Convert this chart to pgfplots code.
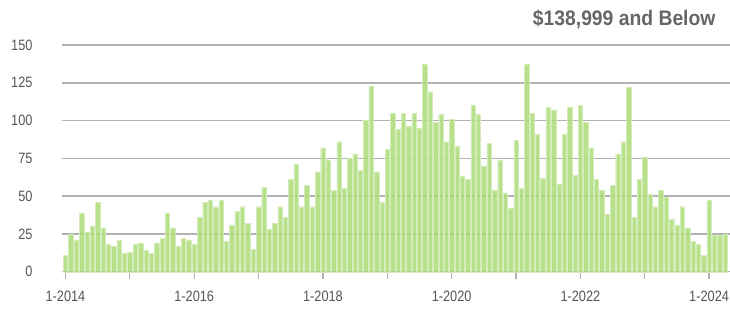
\documentclass[border=0pt]{standalone}
\usepackage{fontspec}
\setmainfont{Liberation Sans}
\newfontfamily\narrow{Liberation Sans}[FakeStretch=0.85]
\newfontfamily\titlefont{Liberation Sans}[FakeStretch=0.92]
\usepackage{pgfplots}
\usepackage{pgfplotstable}
\pgfplotsset{compat=1.18}
\definecolor{barfill}{RGB}{172,220,120}
\definecolor{baredge}{RGB}{212,236,186}
\definecolor{gridgray}{RGB}{178,178,178}
\definecolor{labgray}{RGB}{85,85,85}
\definecolor{titlegray}{RGB}{102,102,102}
\pgfplotstableread{
v
11
25
21
39
26
30
46
29
18
17
21
12
13
18
19
14
12
19
22
39
29
17
22
21
18
36
46
47
43
47
20
31
40
43
32
15
43
56
28
32
43
36
61
71
43
57
43
66
82
74
54
86
55
75
78
67
100
123
66
46
81
105
94
105
96
105
95
137
119
99
104
86
101
83
63
61
110
104
70
85
54
74
52
42
87
55
137
105
91
62
109
107
58
91
109
64
110
99
82
61
54
38
57
78
86
122
36
61
76
51
43
54
49
35
31
43
29
20
18
11
47
24
24
25
}\data
\begin{document}
\begin{tikzpicture}
\begin{axis}[
  scale only axis,
  width=668pt, height=226.7pt,
  xmin=-0.65, xmax=123.9,
  ymin=0, ymax=150,
  ytick={0,25,...,150},
  xtick={0,12,...,120},
  xticklabels={1-2014,,1-2016,,1-2018,,1-2020,,1-2022,,1-2024},
  axis line style={draw=none},
  ymajorgrids,
  grid style={draw=gridgray, line width=1.5pt},
  ytick style={draw=none},
  xtick pos=bottom,
  tick align=outside,
  major tick length=7pt,
  xtick style={draw=gridgray, line width=1.2pt},
  /pgf/number format/assume math mode=true,
  ticklabel style={font=\narrow\fontsize{15}{15}\selectfont, text=labgray},
  yticklabel style={xshift=-19pt},
  xticklabel style={yshift=-9pt},
  clip=false,
]
\addplot[ybar, bar width=4.4pt, fill=barfill, fill opacity=0.85, draw=baredge, line width=0.4pt]
  table[x expr=\coordindex, y=v] {\data};
\end{axis}
\node[anchor=base east, text=titlegray, font=\titlefont\bfseries\fontsize{21}{21}\selectfont]
  at ([xshift=657pt, yshift=246.7pt]current axis.south west) {\$138,999 and Below};
\pgfresetboundingbox
\path[use as bounding box] ([xshift=-62pt, yshift=-42.3pt]current axis.south west) rectangle ([xshift=668pt, yshift=271.7pt]current axis.south west);
\end{tikzpicture}
\end{document}
